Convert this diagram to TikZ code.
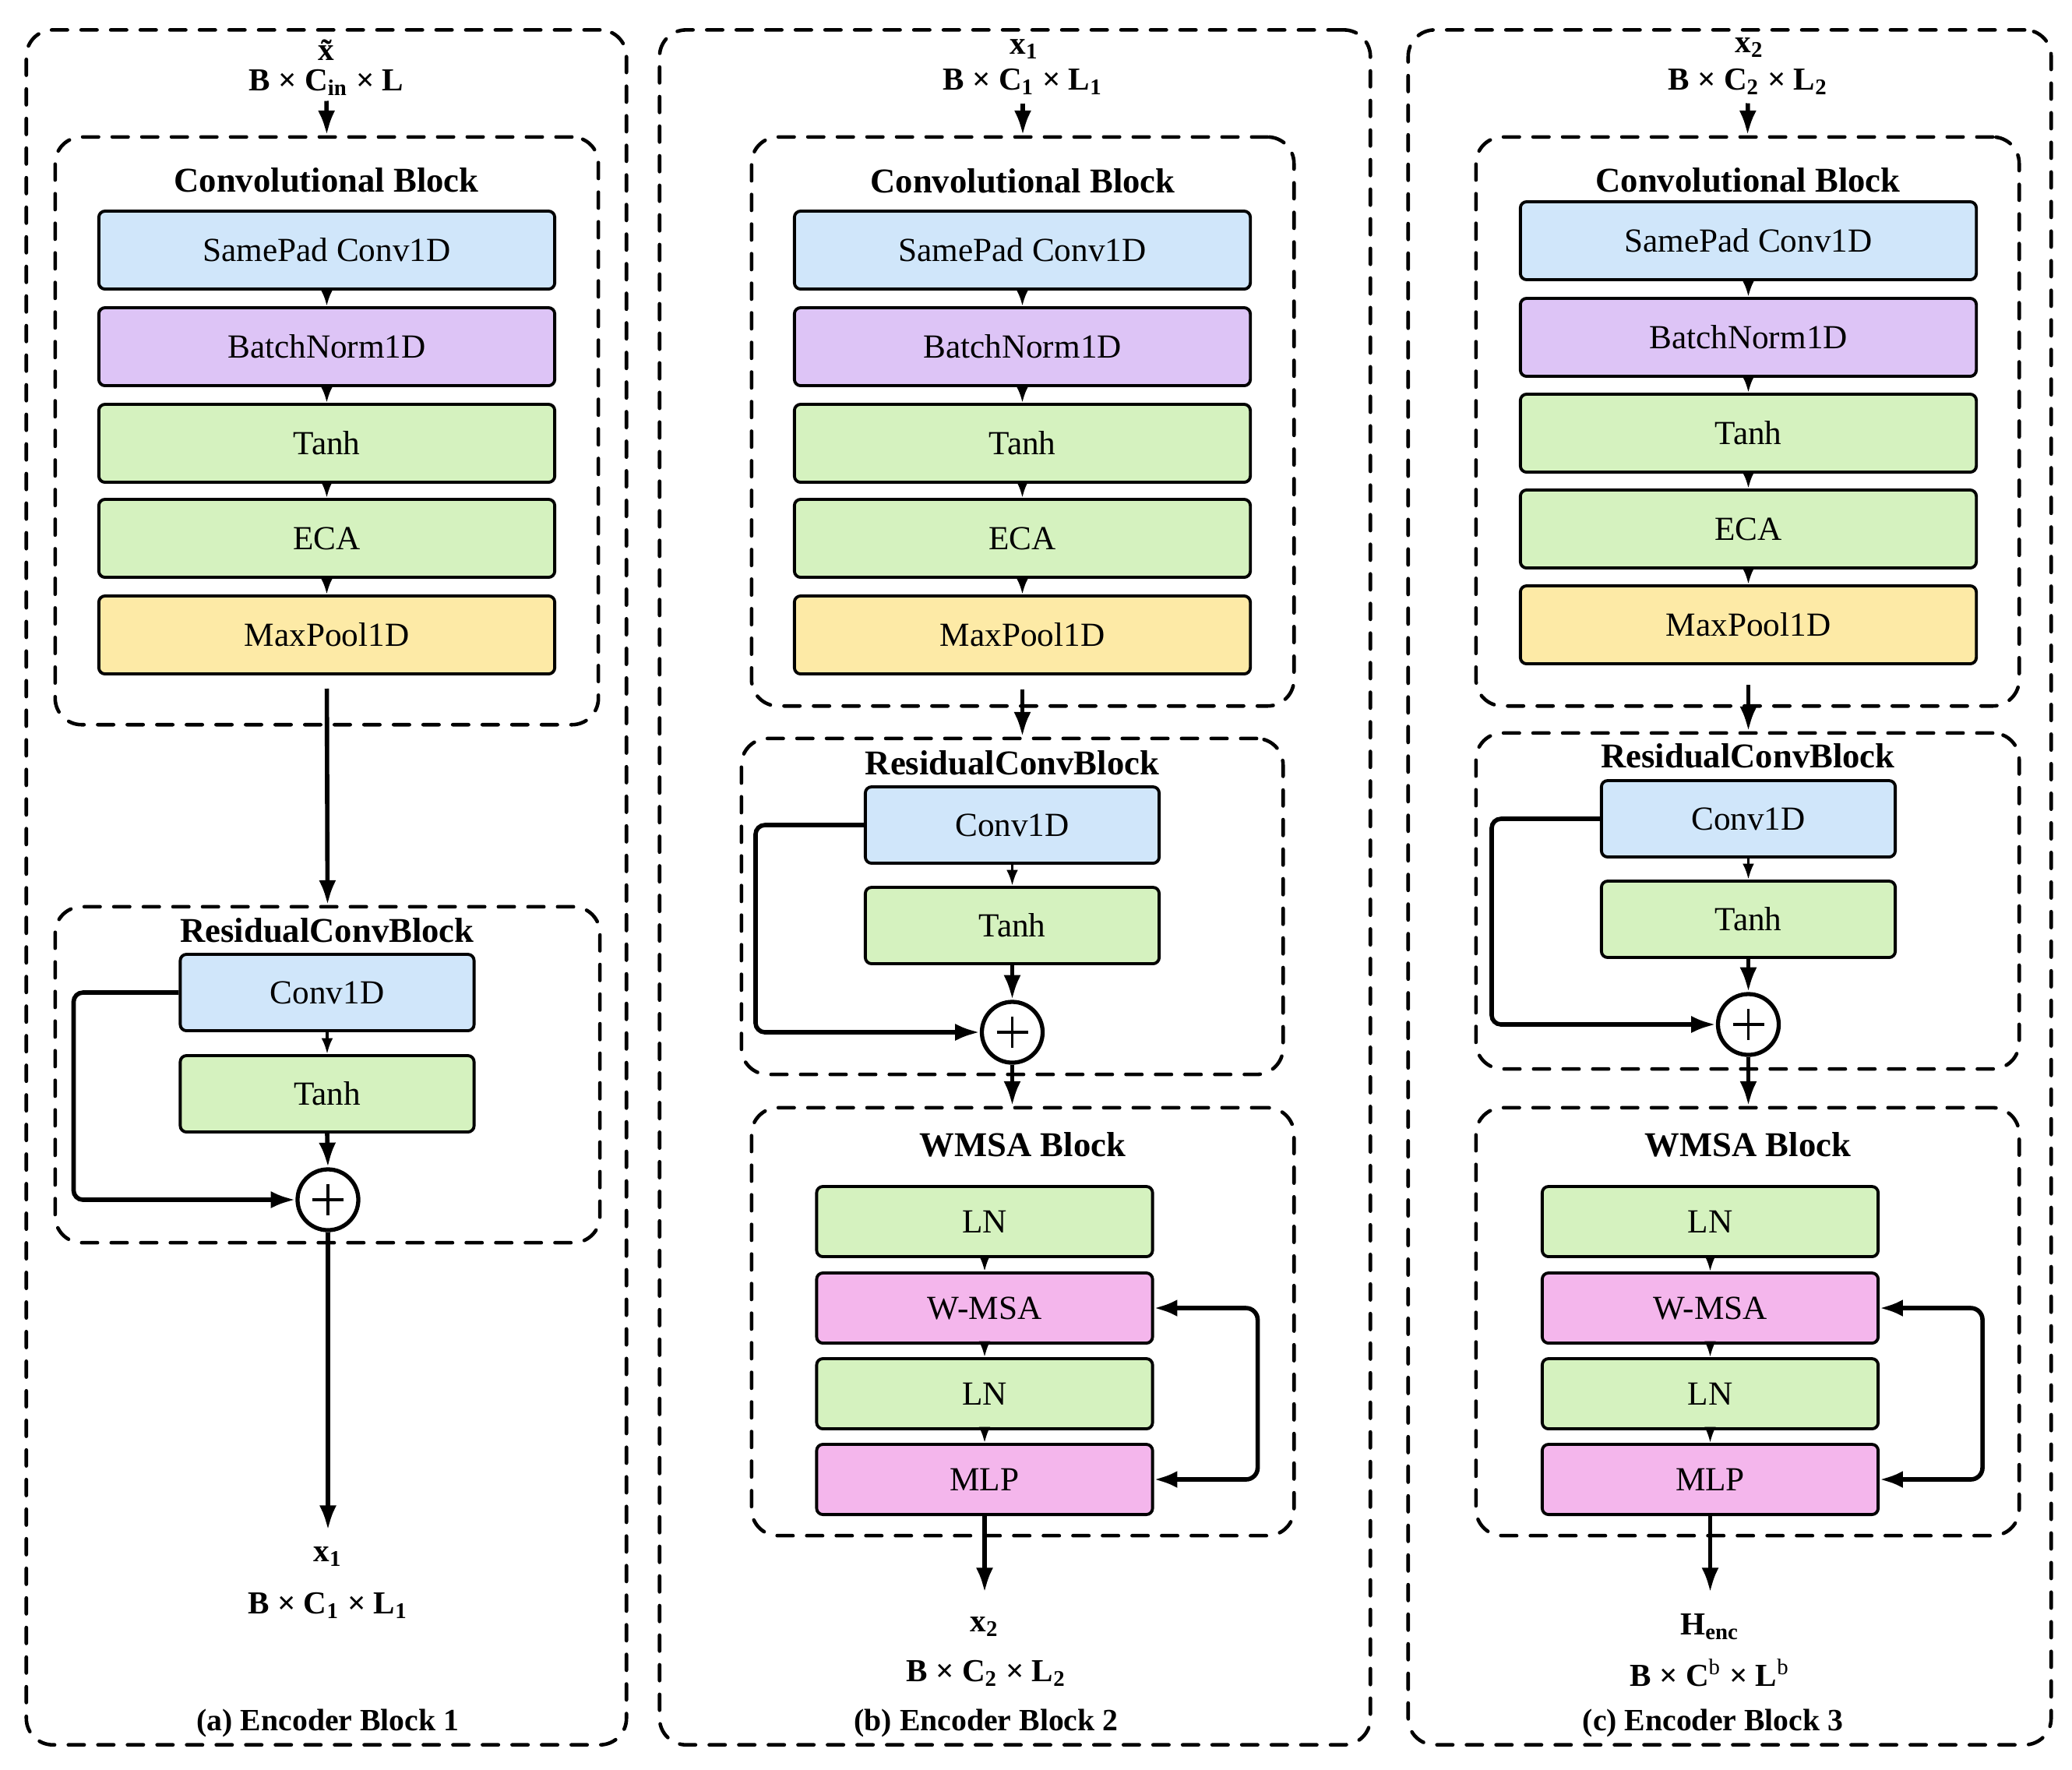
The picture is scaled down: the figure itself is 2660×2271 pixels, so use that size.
\documentclass[tikz,border=0pt]{standalone}
\usepackage{fontspec}
\setmainfont{Liberation Serif}
\usetikzlibrary{arrows.meta}
\definecolor{cblue}{RGB}{208,230,250}
\definecolor{cpurple}{RGB}{221,196,246}
\definecolor{cgreen}{RGB}{213,242,191}
\definecolor{cyellow}{RGB}{253,234,166}
\definecolor{cpink}{RGB}{244,182,236}
\begin{document}
\begin{tikzpicture}[x=0.01cm, y=-0.01cm,
 blockbox/.style={draw, line width=1.1pt, rounded corners=0.08cm, inner sep=0pt, font=\fontsize{12.3}{14}\selectfont},
 cbox/.style={blockbox, minimum width=5.85cm, minimum height=1.0cm},
 rbox/.style={blockbox, minimum width=3.77cm, minimum height=0.98cm},
 wbox/.style={blockbox, minimum width=4.31cm, minimum height=0.9cm},
 dashbox/.style={draw, line width=1.3pt, dash pattern=on 5.8pt off 5pt, line cap=round, rounded corners=0.34cm, inner sep=0pt},
 ttl/.style={font=\fontsize{12.7}{15}\selectfont\bfseries, inner sep=0pt},
 lab/.style={font=\fontsize{11.7}{14}\selectfont\bfseries, inner sep=0pt},
 captxt/.style={font=\fontsize{11.3}{14}\selectfont\bfseries, inner sep=0pt},
 mainarrow/.style={line width=1.6pt, -{Latex[length=9pt,width=6.3pt]}},
 smallarrow/.style={line width=1pt, -{Latex[length=5.8pt,width=4.2pt]}},
 fbarrow/.style={line width=1.6pt, {Latex[length=8.5pt,width=6.3pt]}-{Latex[length=8.5pt,width=6.3pt]}, rounded corners=0.15cm},
 skiparrow/.style={mainarrow, rounded corners=0.12cm},
 addc/.style={draw, circle, line width=1.5pt, minimum size=0.78cm, inner sep=0pt, fill=white,
   path picture={\draw[line width=1.1pt] ([xshift=-0.2cm]path picture bounding box.center) -- ([xshift=0.2cm]path picture bounding box.center);
                 \draw[line width=1.1pt] ([yshift=-0.2cm]path picture bounding box.center) -- ([yshift=0.2cm]path picture bounding box.center);}}]
\useasboundingbox (0,0) rectangle (2660,2271);

% ================= Panel (a) =================
\node[dashbox, minimum width=7.70cm, minimum height=22.00cm] (A) at (419,1139) {};
\node[lab] (ta) at (419,64) {\~{x}};
\node[lab] (da) at (419,106) {B × C\textsubscript{in} × L};
\node[dashbox, minimum width=6.97cm, minimum height=7.54cm] (CA) at (419.5,553) {};
\node[ttl] (tca) at (419,231) {Convolutional Block};
\node[cbox, fill=cblue] (a1) at (419.5,321) {SamePad Conv1D};
\node[cbox, fill=cpurple] (a2) at (419.5,445) {BatchNorm1D};
\node[cbox, fill=cgreen] (a3) at (419.5,569) {Tanh};
\node[cbox, fill=cgreen] (a4) at (419.5,691) {ECA};
\node[cbox, fill=cyellow] (a5) at (419.5,815) {MaxPool1D};
\node[dashbox, minimum width=6.99cm, minimum height=4.31cm] (RA) at (420.5,1379.5) {};
\node[ttl] (tra) at (420,1194) {ResidualConvBlock};
\node[rbox, fill=cblue] (ra1) at (420,1274) {Conv1D};
\node[rbox, fill=cgreen] (ra2) at (420,1404) {Tanh};
\node[addc] (pa) at (421,1540) {};
\coordinate (ea) at (421,1964);
\node[lab] (xa) at (421,1998) {x\textsubscript{1}};
\node[lab] (sa) at (421,2061) {B × C\textsubscript{1} × L\textsubscript{1}};
\node[captxt] (capa) at (421,2212) {(a) Encoder Block 1};

\draw[mainarrow, shorten <=0.06cm] (da.south) -- (CA.north);
\draw[smallarrow] (a1.south) -- (a2.north);
\draw[smallarrow] (a2.south) -- (a3.north);
\draw[smallarrow] (a3.south) -- (a4.north);
\draw[smallarrow] (a4.south) -- (a5.north);
\draw[mainarrow, shorten <=0.17cm] (a5.south) -- (RA.north);
\draw[smallarrow] (ra1.south) -- (ra2.north);
\draw[mainarrow] (ra2.south) -- (pa.north);
\draw[skiparrow] (ra1.west) -- ++(-135,0) |- (pa.west);
\draw[mainarrow] (pa.south) -- (ea);

% ================= Panel (b) =================
\node[dashbox, minimum width=9.12cm, minimum height=22.00cm] (B) at (1303,1139) {};
\node[lab] (tb) at (1315,63) {x\textsubscript{1}};
\node[lab] (db) at (1313,105) {B × C\textsubscript{1} × L\textsubscript{1}};
\node[dashbox, minimum width=6.96cm, minimum height=7.30cm] (CB) at (1313,541) {};
\node[ttl] (tcb) at (1313,232) {Convolutional Block};
\node[cbox, fill=cblue] (b1) at (1312.5,321) {SamePad Conv1D};
\node[cbox, fill=cpurple] (b2) at (1312.5,445) {BatchNorm1D};
\node[cbox, fill=cgreen] (b3) at (1312.5,569) {Tanh};
\node[cbox, fill=cgreen] (b4) at (1312.5,691) {ECA};
\node[cbox, fill=cyellow] (b5) at (1312.5,815) {MaxPool1D};
\node[dashbox, minimum width=6.95cm, minimum height=4.31cm] (RB) at (1299.5,1163.5) {};
\node[ttl] (trb) at (1299.5,979) {ResidualConvBlock};
\node[rbox, fill=cblue] (rb1) at (1299.5,1059) {Conv1D};
\node[rbox, fill=cgreen] (rb2) at (1299.5,1188) {Tanh};
\node[addc] (pb) at (1299.5,1325) {};
\node[dashbox, minimum width=6.96cm, minimum height=5.49cm] (WB) at (1313,1696.5) {};
\node[ttl] (twb) at (1313,1469) {WMSA Block};
\node[wbox, fill=cgreen] (wb1) at (1264,1568) {LN};
\node[wbox, fill=cpink] (wb2) at (1264,1679) {W-MSA};
\node[wbox, fill=cgreen] (wb3) at (1264,1789) {LN};
\node[wbox, fill=cpink] (wb4) at (1264,1899) {MLP};
\coordinate (eb) at (1264,2044);
\node[lab] (xb) at (1264,2088) {x\textsubscript{2}};
\node[lab] (sb) at (1266,2148) {B × C\textsubscript{2} × L\textsubscript{2}};
\node[captxt] (capb) at (1266,2212) {(b) Encoder Block 2};

\draw[mainarrow, shorten <=0.1cm] (db.south) -- (CB.north);
\draw[smallarrow] (b1.south) -- (b2.north);
\draw[smallarrow] (b2.south) -- (b3.north);
\draw[smallarrow] (b3.south) -- (b4.north);
\draw[smallarrow] (b4.south) -- (b5.north);
\draw[mainarrow, shorten <=0.18cm] (b5.south) -- (b5.south |- RB.north);
\draw[smallarrow] (rb1.south) -- (rb2.north);
\draw[mainarrow] (rb2.south) -- (pb.north);
\draw[skiparrow] (rb1.west) -- ++(-139,0) |- (pb.west);
\draw[mainarrow] (pb.south) -- (pb.south |- WB.north);
\draw[smallarrow] (wb1.south) -- (wb2.north);
\draw[smallarrow] (wb2.south) -- (wb3.north);
\draw[smallarrow] (wb3.south) -- (wb4.north);
\draw[fbarrow] (wb2.east) -- ++(133,0) |- (wb4.east);
\draw[mainarrow] (wb4.south) -- (eb);

% ================= Panel (c) =================
\node[dashbox, minimum width=8.25cm, minimum height=22.00cm] (C) at (2220.5,1139) {};
\node[lab] (tc) at (2246,61) {x\textsubscript{2}};
\node[lab] (dc) at (2244,105) {B × C\textsubscript{2} × L\textsubscript{2}};
\node[dashbox, minimum width=6.97cm, minimum height=7.30cm] (CC) at (2243.5,541) {};
\node[ttl] (tcc) at (2244,231) {Convolutional Block};
\node[cbox, fill=cblue] (c1) at (2244.5,309) {SamePad Conv1D};
\node[cbox, fill=cpurple] (c2) at (2244.5,433) {BatchNorm1D};
\node[cbox, fill=cgreen] (c3) at (2244.5,556) {Tanh};
\node[cbox, fill=cgreen] (c4) at (2244.5,679) {ECA};
\node[cbox, fill=cyellow] (c5) at (2244.5,802) {MaxPool1D};
\node[dashbox, minimum width=6.97cm, minimum height=4.31cm] (RC) at (2243.5,1156.5) {};
\node[ttl] (trc) at (2244,970) {ResidualConvBlock};
\node[rbox, fill=cblue] (rc1) at (2244.5,1051) {Conv1D};
\node[rbox, fill=cgreen] (rc2) at (2244.5,1180) {Tanh};
\node[addc] (pc) at (2244.5,1315) {};
\node[dashbox, minimum width=6.97cm, minimum height=5.49cm] (WC) at (2243.5,1696.5) {};
\node[ttl] (twc) at (2244,1469) {WMSA Block};
\node[wbox, fill=cgreen] (wc1) at (2195.5,1568) {LN};
\node[wbox, fill=cpink] (wc2) at (2195.5,1679) {W-MSA};
\node[wbox, fill=cgreen] (wc3) at (2195.5,1789) {LN};
\node[wbox, fill=cpink] (wc4) at (2195.5,1899) {MLP};
\coordinate (ec) at (2195.5,2044);
\node[lab] (xc) at (2195,2088) {H\textsubscript{enc}};
\node[lab] (sc) at (2195,2147) {B × C\textsuperscript{\mdseries b} × L\textsuperscript{\mdseries b}};
\node[captxt] (capc) at (2199,2212) {(c) Encoder Block 3};

\draw[mainarrow, shorten <=0.1cm] (dc.south) -- (CC.north);
\draw[smallarrow] (c1.south) -- (c2.north);
\draw[smallarrow] (c2.south) -- (c3.north);
\draw[smallarrow] (c3.south) -- (c4.north);
\draw[smallarrow] (c4.south) -- (c5.north);
\draw[mainarrow, shorten <=0.25cm] (c5.south) -- (c5.south |- RC.north);
\draw[smallarrow] (rc1.south) -- (rc2.north);
\draw[mainarrow] (rc2.south) -- (pc.north);
\draw[skiparrow] (rc1.west) -- ++(-139,0) |- (pc.west);
\draw[mainarrow] (pc.south) -- (pc.south |- WC.north);
\draw[smallarrow] (wc1.south) -- (wc2.north);
\draw[smallarrow] (wc2.south) -- (wc3.north);
\draw[smallarrow] (wc3.south) -- (wc4.north);
\draw[fbarrow] (wc2.east) -- ++(132,0) |- (wc4.east);
\draw[mainarrow] (wc4.south) -- (ec);
\end{tikzpicture}
\end{document}
